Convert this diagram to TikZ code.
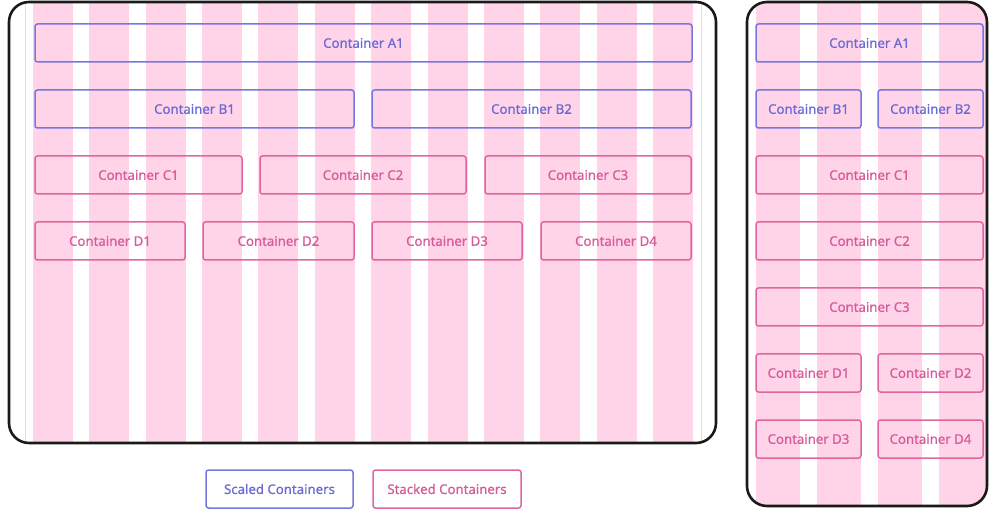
\documentclass[tikz,border=0pt]{standalone}
\usepackage{fontspec}
\setmainfont{Noto Sans}
\newfontfamily\labelfont[FakeBold=0.7]{Noto Sans}
\definecolor{stripe}{HTML}{FFD3E8}
\definecolor{guide}{HTML}{F7D4DE}
\definecolor{scaledc}{HTML}{7676E0}
\definecolor{scaledt}{HTML}{6A6AD4}
\definecolor{stackedc}{HTML}{E0659F}
\definecolor{stackedt}{HTML}{D65B98}
\definecolor{frame}{HTML}{1A1A1A}
\tikzset{
  box/.style={draw, line width=1.5pt, rounded corners=2.5pt, inner sep=0pt,
    font=\labelfont\fontsize{13.2}{15}\selectfont},
  scaled/.style={box, draw=scaledc, text=scaledt},
  stacked/.style={box, draw=stackedc, text=stackedt},
  panel/.style={draw=frame, line width=2.6pt, rounded corners=20pt},
}
% container spanning x1..x2, y1..y2 (pixel units)
\newcommand{\cbox}[6]{%
  \node[#1, minimum width=#4-#3, minimum height=#6-#5] (#2)
    at ({(#3+#4)/2},{(#5+#6)/2}) {Container #2};}
\begin{document}
\begin{tikzpicture}[x=1pt,y=-1pt]
\useasboundingbox (0,0) rectangle (989,513);

% ---- wide layout: 12-column grid ----
\begin{scope}
  \clip[rounded corners=20pt] (9,2) rectangle (716,443);
  \foreach \i in {0,...,11}
    \fill[stripe] ({33+\i*56.36},0) rectangle ({73+\i*56.36},445);
  \draw[guide, line width=0.8pt] (25,0) -- (25,445);
  \draw[guide, line width=0.8pt] (701,0) -- (701,445);
\end{scope}
\draw[panel] (9,2) rectangle (716,443);

% ---- narrow layout: 4-column grid ----
\begin{scope}
  \clip[rounded corners=20pt] (747,2) rectangle (987,506);
  \foreach \i in {0,...,3}
    \fill[stripe] ({756+\i*61},0) rectangle ({800+\i*61},510);
  \fill[stripe] (983,0) rectangle (990,510);
\end{scope}
\draw[panel] (747,2) rectangle (987,506);

% ---- containers, wide layout ----
\cbox{scaled}{A1}{35}{692}{24}{62}
\cbox{scaled}{B1}{35}{354}{90}{128}
\cbox{scaled}{B2}{372}{691}{90}{128}
\cbox{stacked}{C1}{35}{242}{156}{194}
\cbox{stacked}{C2}{260}{466}{156}{194}
\cbox{stacked}{C3}{485}{691}{156}{194}
\cbox{stacked}{D1}{35}{185}{222}{260}
\cbox{stacked}{D2}{203}{354}{222}{260}
\cbox{stacked}{D3}{372}{522}{222}{260}
\cbox{stacked}{D4}{541}{691}{222}{260}

% ---- containers, narrow layout ----
\begin{scope}[name prefix=n-]
\cbox{scaled}{A1}{756}{983}{24}{62}
\cbox{scaled}{B1}{756}{861}{90}{128}
\cbox{scaled}{B2}{878}{983}{90}{128}
\cbox{stacked}{C1}{756}{983}{156}{194}
\cbox{stacked}{C2}{756}{983}{222}{260}
\cbox{stacked}{C3}{756}{983}{288}{326}
\cbox{stacked}{D1}{756}{861}{354}{392}
\cbox{stacked}{D2}{878}{983}{354}{392}
\cbox{stacked}{D3}{756}{861}{420}{458}
\cbox{stacked}{D4}{878}{983}{420}{458}
\end{scope}

% ---- legend ----
\node[scaled, minimum width=147, minimum height=38] (legScaled)
  at (279.5,489) {Scaled Containers};
\node[stacked, minimum width=148, minimum height=38] (legStacked)
  at (447,489) {Stacked Containers};
\end{tikzpicture}
\end{document}
